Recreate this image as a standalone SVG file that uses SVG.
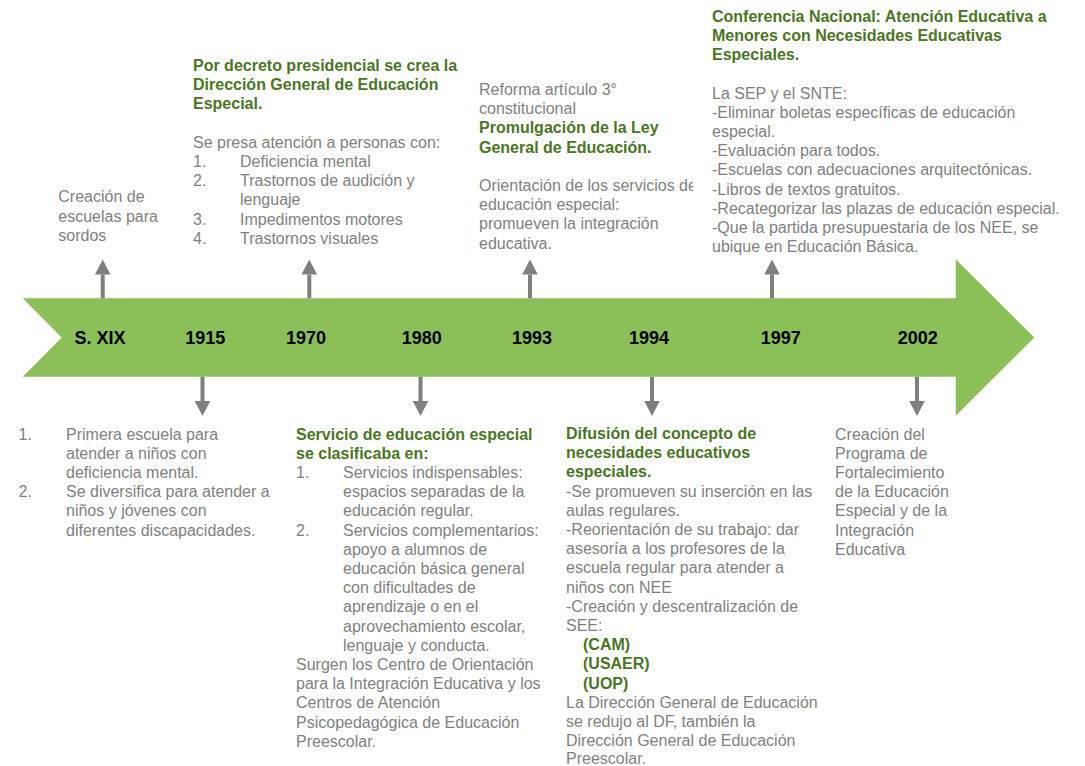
<svg xmlns="http://www.w3.org/2000/svg" width="1085" height="766" viewBox="0 0 1085 766">
<style>
.t{font-family:"Liberation Sans",Arial,sans-serif;font-size:16px;fill:#7f7f7f}
.h{font-family:"Liberation Sans",Arial,sans-serif;font-size:16px;font-weight:bold;fill:#4a7524}
.y{font-family:"Liberation Sans",Arial,sans-serif;font-size:18px;font-weight:bold;fill:#000;text-anchor:middle}
.c{stroke:#7f7f7f;stroke-width:4;fill:none;marker-end:url(#ah)}
</style>
<defs>
<marker id="ah" markerUnits="userSpaceOnUse" markerWidth="16" markerHeight="16" viewBox="0 -8 15 16" refX="0" refY="0" orient="auto">
<path d="M0,-7.8 L15,0 L0,7.8 Z" fill="#7f7f7f"/>
</marker>
<clipPath id="clip93"><rect x="470" y="0" width="223" height="300"/></clipPath>
</defs>

<g id="timeline">
<polygon points="22.7,298.3 955.7,298.3 955.7,259.3 1034.3,337.5 955.7,415.7 955.7,376.7 22.7,376.7 61.7,337.5" fill="#8bbf58"/>
<text class="y" x="100" y="344">S. XIX</text>
<text class="y" x="205.3" y="344">1915</text>
<text class="y" x="306" y="344">1970</text>
<text class="y" x="421.7" y="344">1980</text>
<text class="y" x="532" y="344">1993</text>
<text class="y" x="649" y="344">1994</text>
<text class="y" x="780.7" y="344">1997</text>
<text class="y" x="917.7" y="344">2002</text>
</g>

<g id="connectors">
<line class="c" x1="102.7" y1="298.3" x2="102.7" y2="274.5"/>
<line class="c" x1="309.3" y1="298.3" x2="309.3" y2="274.5"/>
<line class="c" x1="530" y1="298.3" x2="530" y2="274.5"/>
<line class="c" x1="772" y1="298.3" x2="772" y2="274.5"/>
<line class="c" x1="202.5" y1="376.7" x2="202.5" y2="401"/>
<line class="c" x1="420.5" y1="376.7" x2="420.5" y2="401"/>
<line class="c" x1="652" y1="376.7" x2="652" y2="401"/>
<line class="c" x1="917" y1="376.7" x2="917" y2="401"/>
</g>

<g id="n-sxix">
<text class="t"><tspan x="58.3" y="202.3">Creación de</tspan><tspan x="58.3" y="221.5">escuelas para</tspan><tspan x="58.3" y="240.7">sordos</tspan></text>
</g>

<g id="n-1970">
<text class="h"><tspan x="193" y="71">Por decreto presidencial se crea la</tspan><tspan x="193" y="90.2">Dirección General de Educación</tspan><tspan x="193" y="109.4">Especial.</tspan></text>
<text class="t"><tspan x="193" y="147.8">Se presa atención a personas con:</tspan><tspan x="193" y="167">1.</tspan><tspan x="240" y="167">Deficiencia mental</tspan><tspan x="193" y="186.2">2.</tspan><tspan x="240" y="186.2">Trastornos de audición y</tspan><tspan x="240" y="205.4">lenguaje</tspan><tspan x="193" y="224.6">3.</tspan><tspan x="240" y="224.6">Impedimentos motores</tspan><tspan x="193" y="243.8">4.</tspan><tspan x="240" y="243.8">Trastornos visuales</tspan></text>
</g>

<g id="n-1993">
<text class="t"><tspan x="479" y="95">Reforma artículo 3°</tspan><tspan x="479" y="114.2">constitucional</tspan></text>
<text class="h"><tspan x="479" y="133.4">Promulgación de la Ley</tspan><tspan x="479" y="152.6">General de Educación.</tspan></text>
<text class="t" clip-path="url(#clip93)"><tspan x="479" y="191">Orientación de los servicios de</tspan><tspan x="479" y="210.2">educación especial:</tspan><tspan x="479" y="229.4">promueven la integración</tspan><tspan x="479" y="248.6">educativa.</tspan></text>
</g>

<g id="n-1997">
<text class="h"><tspan x="712" y="21.7">Conferencia Nacional: Atención Educativa a</tspan><tspan x="712" y="40.9">Menores con Necesidades Educativas</tspan><tspan x="712" y="60.1">Especiales.</tspan></text>
<text class="t"><tspan x="712" y="98.5">La SEP y el SNTE:</tspan><tspan x="712" y="117.7">-Eliminar boletas específicas de educación</tspan><tspan x="712" y="136.9">especial.</tspan><tspan x="712" y="156.1">-Evaluación para todos.</tspan><tspan x="712" y="175.3">-Escuelas con adecuaciones arquitectónicas.</tspan><tspan x="712" y="194.5">-Libros de textos gratuitos.</tspan><tspan x="712" y="213.7">-Recategorizar las plazas de educación especial.</tspan><tspan x="712" y="232.9">-Que la partida presupuestaria de los NEE, se</tspan><tspan x="712" y="252.1">ubique en Educación Básica.</tspan></text>
</g>

<g id="n-1915">
<text class="t"><tspan x="18.5" y="439.5">1.</tspan><tspan x="66" y="439.5">Primera escuela para</tspan><tspan x="66" y="458.7">atender a niños con</tspan><tspan x="66" y="477.9">deficiencia mental.</tspan><tspan x="18.5" y="497.1">2.</tspan><tspan x="66" y="497.1">Se diversifica para atender a</tspan><tspan x="66" y="516.3">niños y jóvenes con</tspan><tspan x="66" y="535.5">diferentes discapacidades.</tspan></text>
</g>

<g id="n-1980">
<text class="h"><tspan x="296" y="439.5">Servicio de educación especial</tspan><tspan x="296" y="458.7">se clasificaba en:</tspan></text>
<text class="t"><tspan x="296" y="477.9">1.</tspan><tspan x="343" y="477.9">Servicios indispensables:</tspan><tspan x="343" y="497.1">espacios separadas de la</tspan><tspan x="343" y="516.3">educación regular.</tspan><tspan x="296" y="535.5">2.</tspan><tspan x="343" y="535.5">Servicios complementarios:</tspan><tspan x="343" y="554.7">apoyo a alumnos de</tspan><tspan x="343" y="573.9">educación básica general</tspan><tspan x="343" y="593.1">con dificultades de</tspan><tspan x="343" y="612.3">aprendizaje o en el</tspan><tspan x="343" y="631.5">aprovechamiento escolar,</tspan><tspan x="343" y="650.7">lenguaje y conducta.</tspan><tspan x="296" y="669.9">Surgen los Centro de Orientación</tspan><tspan x="296" y="689.1">para la Integración Educativa y los</tspan><tspan x="296" y="708.3">Centros de Atención</tspan><tspan x="296" y="727.5">Psicopedagógica de Educación</tspan><tspan x="296" y="746.7">Preescolar.</tspan></text>
</g>

<g id="n-1994">
<text class="h"><tspan x="566" y="439">Difusión del concepto de</tspan><tspan x="566" y="458.2">necesidades educativos</tspan><tspan x="566" y="477.4">especiales.</tspan></text>
<text class="t"><tspan x="566" y="496.6">-Se promueven su inserción en las</tspan><tspan x="566" y="515.8">aulas regulares.</tspan><tspan x="566" y="535">-Reorientación de su trabajo: dar</tspan><tspan x="566" y="554.2">asesoría a los profesores de la</tspan><tspan x="566" y="573.4">escuela regular para atender a</tspan><tspan x="566" y="592.6">niños con NEE</tspan><tspan x="566" y="611.8">-Creación y descentralización de</tspan><tspan x="566" y="631">SEE:</tspan></text>
<text class="h"><tspan x="583" y="650.2">(CAM)</tspan><tspan x="583" y="669.4">(USAER)</tspan><tspan x="583" y="688.6">(UOP)</tspan></text>
<text class="t"><tspan x="566" y="707.6">La Dirección General de Educación</tspan><tspan x="566" y="726.6">se redujo al DF, también la</tspan><tspan x="566" y="745.6">Dirección General de Educación</tspan><tspan x="566" y="763.8">Preescolar.</tspan></text>
</g>

<g id="n-2002">
<text class="t"><tspan x="835" y="439.5">Creación del</tspan><tspan x="835" y="458.7">Programa de</tspan><tspan x="835" y="477.9">Fortalecimiento</tspan><tspan x="835" y="497.1">de la Educación</tspan><tspan x="835" y="516.3">Especial y de la</tspan><tspan x="835" y="535.5">Integración</tspan><tspan x="835" y="554.7">Educativa</tspan></text>
</g>
</svg>
